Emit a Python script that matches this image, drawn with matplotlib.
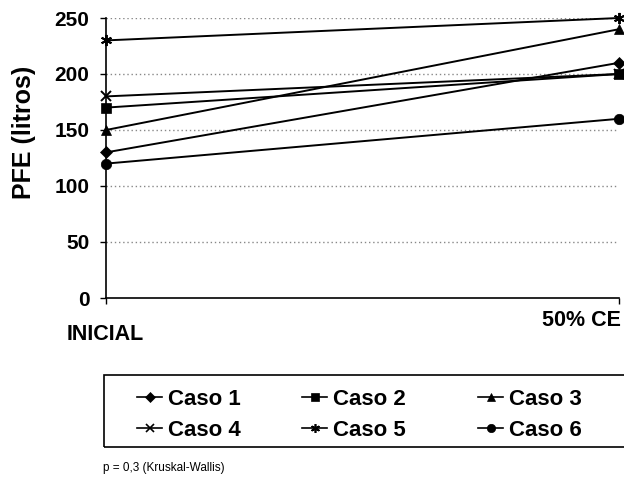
import matplotlib
matplotlib.use("Agg")
import matplotlib.pyplot as plt
from matplotlib.patches import Rectangle
from matplotlib.lines import Line2D

plt.rcParams['font.family'] = ['Liberation Sans', 'DejaVu Sans']

stages = ["INICIAL", "50% CE"]
casos = ["Caso 1", "Caso 2", "Caso 3", "Caso 4", "Caso 5", "Caso 6"]
caso1 = [130, 210]
caso2 = [170, 200]
caso3 = [150, 240]
caso4 = [180, 200]
caso5 = [230, 250]
caso6 = [120, 160]
series = [caso1, caso2, caso3, caso4, caso5, caso6]
yticks = [0, 50, 100, 150, 200, 250]
note = "p = 0,3 (Kruskal-Wallis)"

markers = ['D', 's', '^', 'x', (6, 2, 0), 'o']
msizes = [6, 6.5, 7, 7.5, 8, 7.5]

W, H = 624, 484
fig = plt.figure(figsize=(W / 100, H / 100), dpi=100)
ax = fig.add_axes([106 / W, 1 - 298 / H, (619 - 106) / W, (298 - 18) / H])

xs = list(range(len(stages)))
for name, vals, m, ms in zip(casos, series, markers, msizes):
    ax.plot(xs, vals, color='black', lw=1.4, marker=m, markersize=ms,
            markeredgewidth=1.4 if m in ('x', (6, 2, 0)) else 0.5,
            markerfacecolor='black', markeredgecolor='black',
            clip_on=False, label=name, zorder=3)

ax.set_xlim(0, 1)
ax.set_ylim(0, 250)
ax.set_yticks(yticks)
ax.set_yticklabels([str(v) for v in yticks], fontsize=15, fontweight='bold')
ax.set_xticks([0, 1])
ax.set_xticklabels([])
for v in yticks[1:]:
    ax.axhline(v, color='#888888', lw=1.0, ls=(0, (1, 2)), zorder=1)
ax.tick_params(axis='y', direction='out', length=4, width=1, pad=8)
ax.tick_params(axis='x', direction='out', length=4, width=1)
for s in ['top', 'right']:
    ax.spines[s].set_visible(False)
for s in ['left', 'bottom']:
    ax.spines[s].set_linewidth(1.2)

fig.text(105 / W, 1 - 335 / H, stages[0], ha='center', va='center',
         fontsize=15.5, fontweight='bold')
fig.text(621 / W, 1 - 320 / H, stages[1], ha='right', va='center',
         fontsize=15.5, fontweight='bold')

fig.text(24 / W, 1 - 132 / H, "PFE (litros)", rotation=90, ha='center',
         va='center', fontsize=18, fontweight='bold')

# legend box
fig.patches.append(Rectangle((104 / W, 1 - 447 / H), (640 - 104) / W,
                             (447 - 375) / H, transform=fig.transFigure,
                             fill=False, edgecolor='black', lw=1.2))
col_x = [137, 302, 478]
row_y = [397, 428]
for i, name in enumerate(casos):
    r, c = divmod(i, 3)
    x0 = col_x[c]
    y0 = 1 - row_y[r] / H
    m = markers[i]
    fig.add_artist(Line2D([x0 / W, (x0 + 25) / W], [y0, y0], color='black',
                          lw=1.2, transform=fig.transFigure))
    fig.add_artist(Line2D([(x0 + 12.5) / W], [y0], color='black', lw=0,
                          marker=m, markersize=msizes[i] * 0.8,
                          markeredgewidth=1.2 if m in ('x', (6, 2, 0)) else 0.5,
                          markerfacecolor='black', markeredgecolor='black',
                          transform=fig.transFigure))
    fig.text((x0 + 31) / W, y0, name, ha='left', va='center_baseline',
             fontsize=16, fontweight='bold')

fig.text(103 / W, 1 - 468 / H, note, ha='left', va='center', fontsize=8.5)

fig.savefig("out.png", dpi=100)
